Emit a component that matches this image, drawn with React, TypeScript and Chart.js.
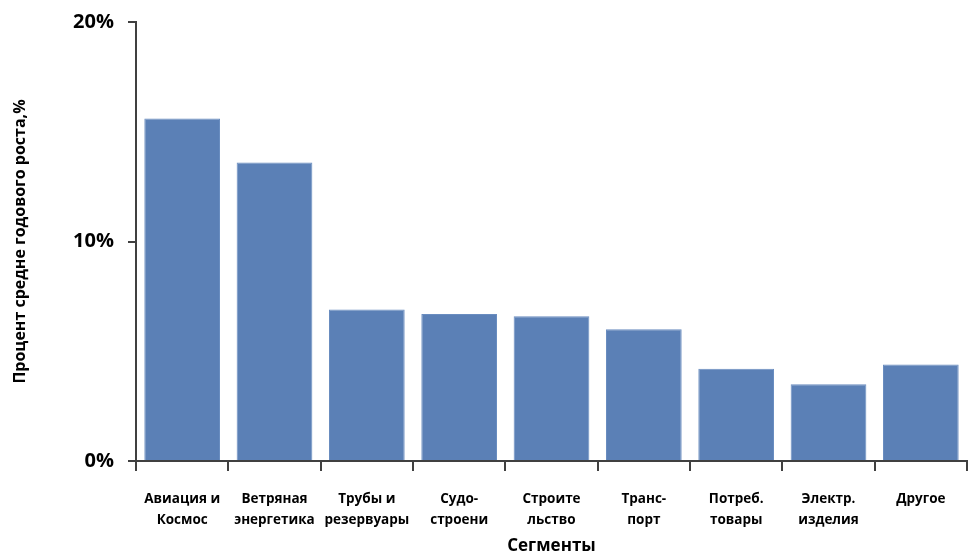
import { useRef, useEffect } from 'react';
import { Chart, ChartConfiguration, registerables } from 'chart.js';

Chart.register(...registerables);

// segments and average annual growth, %
const segments: string[][] = [
    ['Авиация и', 'Космос'],
    ['Ветряная', 'энергетика'],
    ['Трубы и', 'резервуары'],
    ['Судо-', 'строени'],
    ['Строите', 'льство'],
    ['Транс-', 'порт'],
    ['Потреб.', 'товары'],
    ['Электр.', 'изделия'],
    ['Другое'],
];
const growth = [15.6, 13.6, 6.9, 6.7, 6.6, 6.0, 4.2, 3.5, 4.4];
const yTicks = [0, 10, 20];

const FONT = '"Open Sans", "Liberation Sans", sans-serif';
const AXIS = '#404040';

const GrowthChart = () => {
    const chartRef = useRef<HTMLCanvasElement | null>(null);
    const chartInstance = useRef<Chart | null>(null);

    useEffect(() => {
        if (!chartRef.current) return;
        const ctx = chartRef.current.getContext('2d');
        if (!ctx) return;

        const config: ChartConfiguration = {
            type: 'bar',
            data: {
                labels: segments,
                datasets: [
                    {
                        data: growth,
                        backgroundColor: '#5b80b6',
                        borderColor: '#6a8dc0',
                        borderWidth: 1,
                        categoryPercentage: 1,
                        barPercentage: 0.82,
                    },
                ],
            },
            options: {
                animation: false,
                responsive: false,
                layout: { padding: { top: 0, right: 3, left: 0, bottom: 0 } },
                plugins: {
                    legend: { display: false },
                    tooltip: { enabled: false },
                },
                scales: {
                    x: {
                        grid: {
                            drawOnChartArea: false,
                            drawTicks: true,
                            tickLength: 10,
                            color: AXIS,
                            lineWidth: 2,
                        },
                        border: { color: AXIS, width: 2 },
                        ticks: {
                            color: '#000',
                            padding: 18,
                            maxRotation: 0,
                            autoSkip: false,
                            font: { family: FONT, size: 13.5, weight: 'bold', lineHeight: 1.55 },
                        },
                        title: {
                            display: true,
                            text: 'Сегменты',
                            color: '#000',
                            padding: { top: 0, bottom: -4 },
                            font: { family: FONT, size: 17, weight: 'bold' },
                        },
                        afterFit: (scale) => {
                            scale.height = 91;
                        },
                    },
                    y: {
                        min: 0,
                        max: 20,
                        afterBuildTicks: (scale) => {
                            scale.ticks = yTicks.map((v) => ({ value: v }));
                        },
                        grid: {
                            drawOnChartArea: false,
                            drawTicks: true,
                            tickLength: 8,
                            color: AXIS,
                            lineWidth: 2,
                        },
                        border: { color: AXIS, width: 2 },
                        ticks: {
                            color: '#000',
                            padding: 14,
                            callback: (v) => `${v}%`,
                            font: { family: FONT, size: 20, weight: 'bold' },
                        },
                        title: {
                            display: true,
                            text: 'Процент средне годового роста,%',
                            color: '#000',
                            padding: { top: 11, bottom: 0 },
                            font: { family: FONT, size: 16, weight: 'bold' },
                        },
                        afterFit: (scale) => {
                            scale.width = 136;
                            scale.paddingTop = 22;
                        },
                    },
                },
            },
        };

        if (chartInstance.current) {
            chartInstance.current.destroy();
        }
        chartInstance.current = new Chart(ctx, config);

        return () => {
            if (chartInstance.current) {
                chartInstance.current.destroy();
                chartInstance.current = null;
            }
        };
    }, []);

    return (
        <div style={{ position: 'absolute', left: 0, top: 0, width: 970, height: 552, background: '#fff' }}>
            <canvas ref={chartRef} width={970} height={552} style={{ width: 970, height: 552 }} />
        </div>
    );
};

export default function App() {
    return <GrowthChart />;
}
